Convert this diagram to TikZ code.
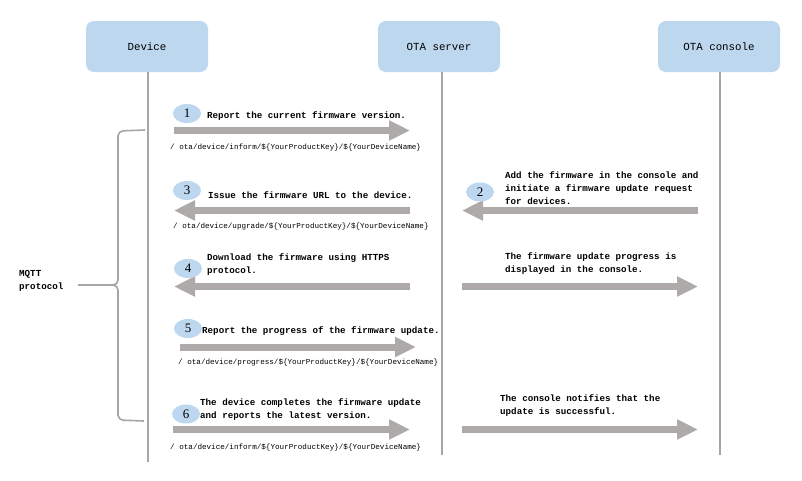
\documentclass[tikz,border=0pt]{standalone}
\usepackage{fontspec}
\setmonofont{Liberation Mono}
\newfontfamily\numfont{Liberation Serif}
\usetikzlibrary{arrows.meta,shapes.geometric}
\definecolor{boxblue}{HTML}{BDD7EE}
\definecolor{arrgray}{HTML}{AEAAAA}
\definecolor{linegray}{HTML}{A6A6A6}
\begin{document}
\begin{tikzpicture}[x=1pt,y=-1pt,
 actor/.style={draw=none,fill=boxblue,rounded corners=8pt,minimum width=122pt,minimum height=51pt,inner sep=0pt,font=\ttfamily\fontsize{10.8}{12}\selectfont},
 life/.style={draw=linegray,line width=2pt},
 msg/.style={draw=arrgray,line width=7pt,-{Triangle[width=19pt,length=21pt]}},
 numb/.style={ellipse,fill=boxblue,minimum width=28pt,minimum height=19pt,inner sep=0pt,font=\numfont\fontsize{13}{13}\selectfont},
 lbl/.style={anchor=west,inner sep=0pt,align=left,font=\ttfamily\bfseries\fontsize{9.2}{13}\selectfont},
 topic/.style={anchor=west,inner sep=0pt,font=\ttfamily\fontsize{7.6}{9}\selectfont},
 bracestyle/.style={draw=linegray,line width=1.6pt,rounded corners=5pt}]
\useasboundingbox (0,0) rectangle (802,480);
\fill[white] (0,0) rectangle (802,480);

% actors
\node[actor] (dev) at (147,46.5) {Device};
\node[actor] (srv) at (439,46.5) {OTA server};
\node[actor] (con) at (719,46.5) {OTA console};

% lifelines
\coordinate (devtop) at (148,72);
\coordinate (devbot) at (148,462);
\coordinate (srvtop) at (442,72);
\coordinate (srvbot) at (442,455);
\coordinate (contop) at (720,72);
\coordinate (conbot) at (720,455);
\draw[life] (devtop) -- (devbot);
\draw[life] (srvtop) -- (srvbot);
\draw[life] (contop) -- (conbot);

% brace
\coordinate (brtop) at (145,130);
\coordinate (brmid) at (78,285);
\coordinate (brbot) at (144,421);
\draw[bracestyle] (brtop) -- (118,131) -- (118,285) -- (brmid);
\draw[bracestyle] (brmid) -- (118,285) -- (118,420) -- (brbot);
\node[lbl,anchor=north west] (mqtt) at (19,270) {MQTT\\protocol};

% step 1
\coordinate (a1s) at (174,130.5);
\coordinate (a1e) at (410,130.5);
\draw[msg] (a1s) -- (a1e);
\node[numb] (n1) at (187,113.5) {1};
\node[lbl] (t1) at (207,116.5) {Report the current firmware version.};
\node[topic] (p1) at (170,148) {/ ota/device/inform/\$\{YourProductKey\}/\$\{YourDeviceName\}};

% step 2
\coordinate (a2s) at (698,210.5);
\coordinate (a2e) at (462,210.5);
\draw[msg] (a2s) -- (a2e);
\node[numb] (n2) at (480,192) {2};
\node[lbl] (t2) at (505,188.5) {Add the firmware in the console and\\initiate a firmware update request\\for devices.};

% step 3
\coordinate (a3s) at (410,210.5);
\coordinate (a3e) at (174,210.5);
\draw[msg] (a3s) -- (a3e);
\node[numb] (n3) at (187,190.5) {3};
\node[lbl] (t3) at (208,195) {Issue the firmware URL to the device.};
\node[topic] (p3) at (173,227) {/ ota/device/upgrade/\$\{YourProductKey\}/\$\{YourDeviceName\}};

% step 4
\coordinate (a4s) at (410,286.5);
\coordinate (a4e) at (174,286.5);
\draw[msg] (a4s) -- (a4e);
\node[numb] (n4) at (188,268.5) {4};
\node[lbl] (t4) at (207,264.5) {Download the firmware using HTTPS\\protocol.};

% progress to console
\coordinate (a4bs) at (462,286.5);
\coordinate (a4be) at (698,286.5);
\draw[msg] (a4bs) -- (a4be);
\node[lbl] (t4b) at (505,264) {The firmware update progress is\\displayed in the console.};

% step 5
\coordinate (a5s) at (180,347);
\coordinate (a5e) at (416,347);
\draw[msg] (a5s) -- (a5e);
\node[numb] (n5) at (188,328.5) {5};
\node[lbl] (t5) at (202,331) {Report the progress of the firmware update.};
\node[topic] (p5) at (178,362.5) {/ ota/device/progress/\$\{YourProductKey\}/\$\{YourDeviceName\}};

% step 6
\coordinate (a6s) at (173,429.5);
\coordinate (a6e) at (410,429.5);
\draw[msg] (a6s) -- (a6e);
\node[numb] (n6) at (186,414) {6};
\node[lbl] (t6) at (200,410) {The device completes the firmware update\\and reports the latest version.};
\node[topic] (p6) at (170,447.5) {/ ota/device/inform/\$\{YourProductKey\}/\$\{YourDeviceName\}};

% success to console
\coordinate (a6bs) at (462,429.5);
\coordinate (a6be) at (698,429.5);
\draw[msg] (a6bs) -- (a6be);
\node[lbl] (t6b) at (500,405.5) {The console notifies that the\\update is successful.};
\end{tikzpicture}
\end{document}
